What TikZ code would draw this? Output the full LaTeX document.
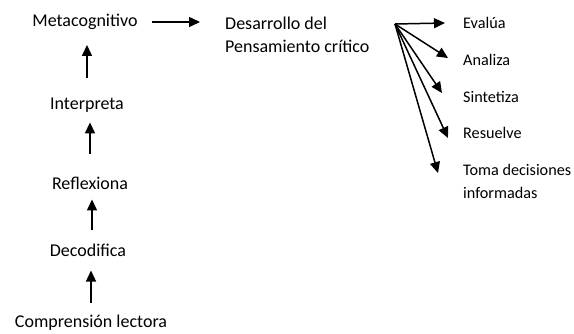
\documentclass[tikz,border=0pt]{standalone}
\usepackage{fontspec}
\setmainfont{Carlito}
\usetikzlibrary{arrows.meta,positioning}

\tikzset{
  lbl/.style = {inner sep = 0pt, font = \fontsize{18}{23.5}\selectfont},
  small/.style = {lbl, anchor = west, align = left, font = \fontsize{16.2}{23}\selectfont},
  conn/.style = {line width = 1.5pt, -{Triangle[length = 11pt, width = 10pt]}}
}

\begin{document}
\begin{tikzpicture}[x = 1pt, y = -1pt]
\useasboundingbox (0,0) rectangle (574,333);
% columna de la izquierda
\node[lbl] (meta) at (85,22) {Metacognitivo};
\node[lbl] (interp) at (87,105) {Interpreta};
\node[lbl] (refl) at (90,183) {Reflexiona};
\node[lbl] (deco) at (88,250) {Decodifica};
\node[lbl] (comp) at (91,323) {Comprensión lectora};
\draw[conn, shorten < = 20pt, shorten > = 15pt] (interp.north) -- (interp.north |- meta.south);
\draw[conn, shorten < = 23pt, shorten > = 10pt] (refl.north) -- (refl.north |- interp.south);
\draw[conn, shorten < = 13pt, shorten > = 10pt] ([xshift = 4pt]deco.north) -- ([xshift = 4pt]deco.north |- refl.south);
\draw[conn, shorten < = 12pt, shorten > = 14pt] (comp.north) -- (comp.north |- deco.south);

% pensamiento critico
\node[lbl, anchor = west, align = left] (desa) at (225,35) {Desarrollo del\\Pensamiento crítico};
\draw[conn, shorten < = 14pt, shorten > = 25pt] (meta.east) -- (meta.east -| desa.west);

\coordinate (fan) at (395,24);
\node[small] (eval) at (463,23) {Evalúa};
\node[small] (anal) at (463,60) {Analiza};
\node[small] (sint) at (463,97) {Sintetiza};
\node[small] (resu) at (463,133) {Resuelve};
\node[small] (toma) at (463,181) {Toma decisiones\\informadas};
\draw[conn] (fan) -- ([shift = {(-18,0)}]eval.west);
\draw[conn] (fan) -- ([shift = {(-15,-2)}]anal.west);
\draw[conn] (fan) -- ([shift = {(-21,-4)}]sint.west);
\draw[conn] (fan) -- ([shift = {(-15,5)}]resu.west);
\draw[conn] (fan) -- ([shift = {(-25,-8)}]toma.west);
\end{tikzpicture}
\end{document}
